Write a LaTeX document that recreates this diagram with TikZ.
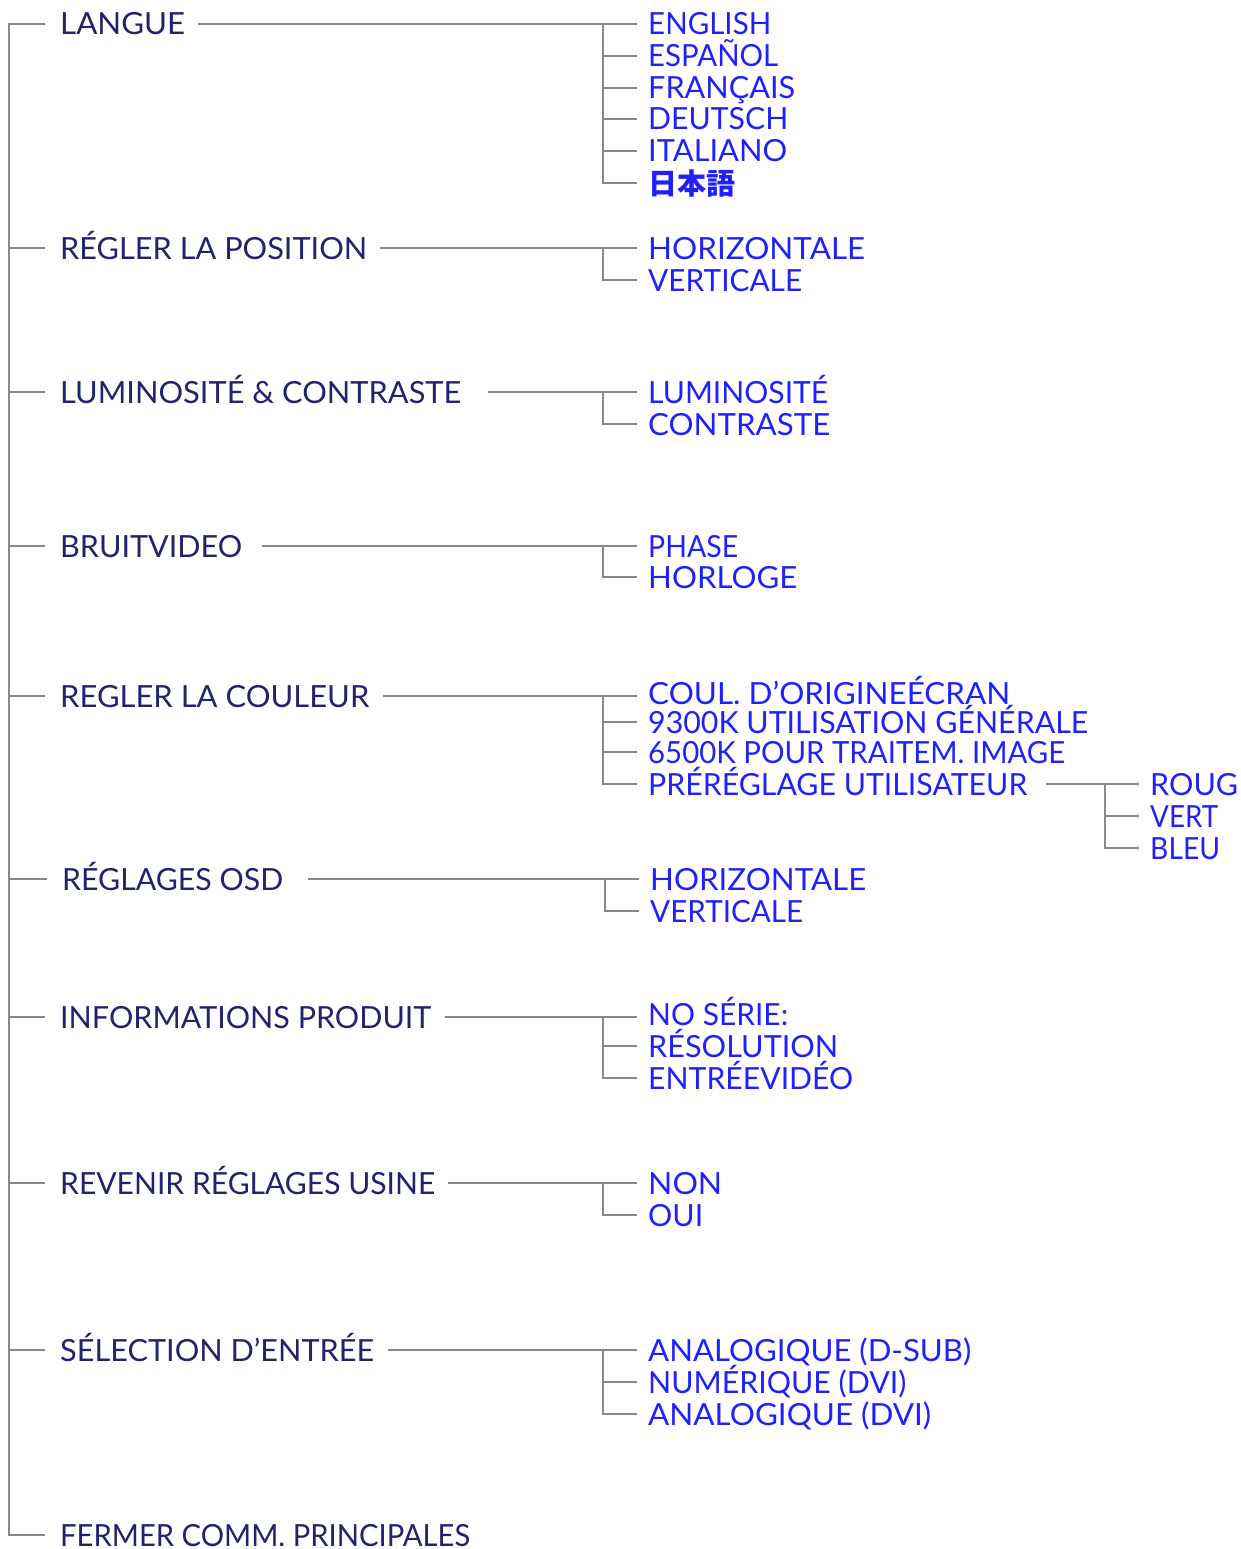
\documentclass[tikz,border=0pt]{standalone}
\usepackage{fontspec}
\setmainfont{Lato}
\newfontfamily\cjk{Noto Sans CJK JP}
\usepackage{graphicx}
\definecolor{navy}{HTML}{22226E}
\definecolor{subblue}{HTML}{2020FF}
\definecolor{lngray}{HTML}{888888}
\newsavebox\fwbox
\newcommand\fw[2]{\sbox\fwbox{#2}\pgfmathsetmacro\fwsx{#1/\the\wd\fwbox}\scalebox{\fwsx}[1]{\usebox\fwbox}}
\tikzset{
  txt/.style={font=\fontsize{30.5}{36}\selectfont, inner sep=0pt, anchor=west, text height=22pt, text depth=0pt},
  mn/.style={txt, text=navy},
  sb/.style={txt, text=subblue},
  ln/.style={draw=lngray, line width=2.2pt},
}
\begin{document}
\begin{tikzpicture}[x=1pt,y=-1pt]
\useasboundingbox (0,0) rectangle (1241,1549);
\coordinate (spine) at (9,0);
% main items
\node[mn] (m1) at (60,24) {\fw{125}{LANGUE}};
\node[mn] (m2) at (60,248) {\fw{307}{RÉGLER LA POSITION}};
\node[mn] (m3) at (60,392) {\fw{401}{LUMINOSITÉ \& CONTRASTE}};
\node[mn] (m4) at (60,546) {\fw{182}{BRUITVIDEO}};
\node[mn] (m5) at (60,696) {\fw{309}{REGLER LA COULEUR}};
\node[mn] (m6) at (62,879) {\fw{221}{RÉGLAGES OSD}};
\node[mn] (m7) at (60,1017) {\fw{371}{INFORMATIONS PRODUIT}};
\node[mn] (m8) at (60,1183) {\fw{375}{REVENIR RÉGLAGES USINE}};
\node[mn] (m9) at (60,1350) {\fw{314}{SÉLECTION D'ENTRÉE}};
\node[mn] (m10) at (60,1535) {\fw{410}{FERMER COMM. PRINCIPALES}};
% spine
\draw[ln] ([xshift=-15pt]m1.west) -- (m1.west -| spine) -- (m10.west -| spine) -- ([xshift=-15pt]m10.west);
\foreach \m in {m2,m3,m4,m5,m6,m7,m8,m9}{
  \draw[ln] (\m.west -| spine) -- ([xshift=-15pt]\m.west);
}
% sub items
\node[sb] (a1) at (648,24) {\fw{123}{ENGLISH}};
\node[sb] (a2) at (648,56) {\fw{130}{ESPAÑOL}};
\node[sb] (a3) at (648,88) {\fw{147}{FRANÇAIS}};
\node[sb] (a4) at (648,119) {\fw{140}{DEUTSCH}};
\node[sb] (a5) at (648,151) {\fw{139}{ITALIANO}};
\node[sb] (a6) at (648,183) {\cjk\bfseries\fontsize{29}{34}\selectfont 日本語};

\node[sb] (b1) at (648,248) {\fw{217}{HORIZONTALE}};
\node[sb] (b2) at (648,280) {\fw{154}{VERTICALE}};

\node[sb] (c1) at (648,392) {\fw{180}{LUMINOSITÉ}};
\node[sb] (c2) at (648,424) {\fw{182}{CONTRASTE}};

\node[sb] (d1) at (648,546) {\fw{90}{PHASE}};
\node[sb] (d2) at (648,577) {\fw{149}{HORLOGE}};

\node[sb] (e1) at (648,693) {\fw{362}{COUL. D'ORIGINEÉCRAN}};
\node[sb] (e2) at (648,722) {\fw{440}{9300K UTILISATION GÉNÉRALE}};
\node[sb] (e3) at (648,752) {\fw{417}{6500K POUR TRAITEM. IMAGE}};
\node[sb] (e4) at (648,784) {\fw{379}{PRÉRÉGLAGE UTILISATEUR}};

\node[sb] (r1) at (1150,784) {\fw{88}{ROUG}};
\node[sb] (r2) at (1150,816) {\fw{68}{VERT}};
\node[sb] (r3) at (1150,848) {\fw{70}{BLEU}};

\node[sb] (f1) at (650,879) {\fw{216}{HORIZONTALE}};
\node[sb] (f2) at (650,911) {\fw{153}{VERTICALE}};

\node[sb] (g1) at (648,1014) {\fw{140}{NO SÉRIE:}};
\node[sb] (g2) at (648,1046) {\fw{190}{RÉSOLUTION}};
\node[sb] (g3) at (648,1078) {\fw{205}{ENTRÉEVIDÉO}};

\node[sb] (h1) at (648,1183) {\fw{74}{NON}};
\node[sb] (h2) at (648,1215) {\fw{55}{OUI}};

\node[sb] (i1) at (648,1350) {\fw{323}{ANALOGIQUE (D-SUB)}};
\node[sb] (i2) at (648,1382) {\fw{258}{NUMÉRIQUE (DVI)}};
\node[sb] (i3) at (648,1414) {\fw{283}{ANALOGIQUE (DVI)}};

% branch connectors
\foreach \m/\f/\l/\g in {m1/a1/a6/13, m2/b1/b2/13, m3/c1/c2/27, m4/d1/d2/20, m5/e1/e4/14, m6/f1/f2/25, m7/g1/g3/14, m8/h1/h2/13, m9/i1/i3/14, e4/r1/r3/19}{
  \draw[ln] ([xshift=\g pt]\m.east) -- ([xshift=-11pt]\f.west |- \m.east);
  \draw[ln] ([xshift=-45pt]\f.west |- \m.east) |- ([xshift=-11pt]\l.west);
}
\foreach \s in {a2,a3,a4,a5,e2,e3,g2,i2,r2}{
  \draw[ln] ([xshift=-45pt]\s.west) -- ([xshift=-11pt]\s.west);
}
\end{tikzpicture}
\end{document}
